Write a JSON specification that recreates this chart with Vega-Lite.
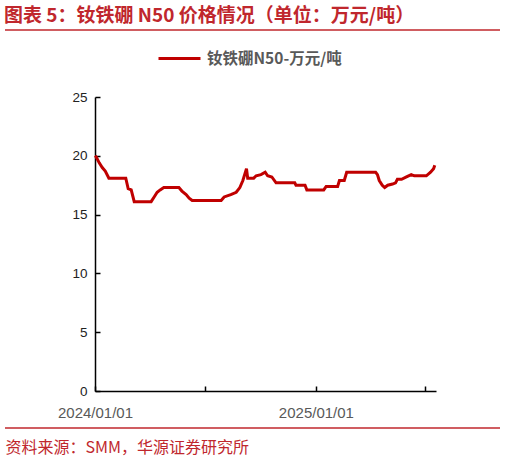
{
  "$schema": "https://vega.github.io/schema/vega-lite/v6.json",
  "description": "钕铁硼N50价格情况",
  "width": 341,
  "height": 294,
  "autosize": "none",
  "padding": {"left": 95, "top": 97, "right": 70, "bottom": 71},
  "title": {
    "text": "图表 5：钕铁硼 N50 价格情况（单位：万元/吨）",
    "anchor": "start",
    "frame": "group",
    "dx": -91,
    "offset": 3,
    "font": "Noto Sans CJK SC",
    "fontSize": 19,
    "fontWeight": "bold",
    "color": "#c0272d"
  },
  "layer": [
    {
      "data": {
        "values": [
          {"date": "2024-01-01", "price": 20.0},
          {"date": "2024-01-03", "price": 19.9},
          {"date": "2024-01-08", "price": 19.4},
          {"date": "2024-01-13", "price": 19.0},
          {"date": "2024-01-18", "price": 18.7},
          {"date": "2024-01-24", "price": 18.1},
          {"date": "2024-02-21", "price": 18.1},
          {"date": "2024-02-25", "price": 17.2},
          {"date": "2024-03-01", "price": 17.1},
          {"date": "2024-03-06", "price": 16.1},
          {"date": "2024-04-03", "price": 16.1},
          {"date": "2024-04-08", "price": 16.5},
          {"date": "2024-04-13", "price": 16.9},
          {"date": "2024-04-18", "price": 17.1},
          {"date": "2024-04-24", "price": 17.3},
          {"date": "2024-05-19", "price": 17.3},
          {"date": "2024-05-24", "price": 17.0},
          {"date": "2024-05-31", "price": 16.7},
          {"date": "2024-06-05", "price": 16.4},
          {"date": "2024-06-10", "price": 16.2},
          {"date": "2024-07-28", "price": 16.2},
          {"date": "2024-08-02", "price": 16.5},
          {"date": "2024-08-13", "price": 16.7},
          {"date": "2024-08-22", "price": 16.9},
          {"date": "2024-08-28", "price": 17.3},
          {"date": "2024-09-02", "price": 17.9},
          {"date": "2024-09-08", "price": 18.9},
          {"date": "2024-09-10", "price": 18.1},
          {"date": "2024-09-20", "price": 18.1},
          {"date": "2024-09-24", "price": 18.3},
          {"date": "2024-10-02", "price": 18.4},
          {"date": "2024-10-09", "price": 18.6},
          {"date": "2024-10-13", "price": 18.3},
          {"date": "2024-10-20", "price": 18.2},
          {"date": "2024-10-27", "price": 17.7},
          {"date": "2024-11-27", "price": 17.7},
          {"date": "2024-11-29", "price": 17.5},
          {"date": "2024-12-14", "price": 17.5},
          {"date": "2024-12-17", "price": 17.1},
          {"date": "2025-01-14", "price": 17.1},
          {"date": "2025-01-18", "price": 17.4},
          {"date": "2025-02-06", "price": 17.4},
          {"date": "2025-02-09", "price": 17.9},
          {"date": "2025-02-17", "price": 17.9},
          {"date": "2025-02-21", "price": 18.6},
          {"date": "2025-04-10", "price": 18.6},
          {"date": "2025-04-13", "price": 18.4},
          {"date": "2025-04-16", "price": 17.9},
          {"date": "2025-04-21", "price": 17.5},
          {"date": "2025-04-25", "price": 17.3},
          {"date": "2025-04-30", "price": 17.5},
          {"date": "2025-05-08", "price": 17.6},
          {"date": "2025-05-13", "price": 17.7},
          {"date": "2025-05-16", "price": 18.0},
          {"date": "2025-05-23", "price": 18.0},
          {"date": "2025-05-31", "price": 18.2},
          {"date": "2025-06-08", "price": 18.4},
          {"date": "2025-06-13", "price": 18.3},
          {"date": "2025-07-03", "price": 18.3},
          {"date": "2025-07-10", "price": 18.6},
          {"date": "2025-07-15", "price": 18.9},
          {"date": "2025-07-17", "price": 19.2}
        ]
      },
      "mark": {"type": "line", "strokeWidth": 3, "strokeJoin": "miter"},
      "encoding": {
        "x": {
          "field": "date",
          "type": "temporal",
          "scale": {"type": "utc", "domain": ["2024-01-01", "2025-07-19"]},
          "axis": {
            "values": [
              {"year": 2024, "month": 1, "date": 1, "utc": true},
              {"year": 2024, "month": 7, "date": 1, "utc": true},
              {"year": 2025, "month": 1, "date": 1, "utc": true},
              {"year": 2025, "month": 7, "date": 1, "utc": true}
            ],
            "labelExpr": "utcmonth(datum.value) == 0 ? utcFormat(datum.value, '%Y/%m/%d') : ''",
            "grid": false,
            "domainColor": "#000000",
            "domainWidth": 1.5,
            "tickColor": "#000000",
            "tickSize": -5,
            "tickWidth": 1.5,
            "labelFont": "Liberation Sans",
            "labelFontSize": 15,
            "labelColor": "#595959",
            "labelPadding": 26,
            "labelBaseline": "middle",
            "labelFlush": false,
            "labelOverlap": false,
            "title": "资料来源：SMM，华源证券研究所",
            "titleFont": "Noto Sans CJK SC",
            "titleFontSize": 16,
            "titleFontWeight": "normal",
            "titleColor": "#c0272d",
            "titleAnchor": "start",
            "titleAlign": "left",
            "titleBaseline": "middle",
            "titleX": -90,
            "titleY": 56
          }
        },
        "y": {
          "field": "price",
          "type": "quantitative",
          "scale": {"domain": [0, 25]},
          "axis": {
            "values": [0, 5, 10, 15, 20, 25],
            "grid": false,
            "domainColor": "#000000",
            "domainWidth": 1.5,
            "tickColor": "#000000",
            "tickSize": -5,
            "tickWidth": 1.5,
            "labelFont": "Liberation Sans",
            "labelFontSize": 13.5,
            "labelColor": "#222222",
            "labelPadding": 13,
            "title": null
          }
        },
        "color": {
          "datum": "钕铁硼N50-万元/吨",
          "type": "nominal",
          "scale": {"range": ["#c00000"]},
          "legend": {
            "title": null,
            "orient": "none",
            "legendX": 62,
            "legendY": -61,
            "symbolType": "stroke",
            "symbolSize": 1764,
            "symbolStrokeWidth": 3,
            "labelFont": "Noto Sans CJK SC",
            "labelFontSize": 15.5,
            "labelFontWeight": "bold",
            "labelColor": "#595959",
            "labelOffset": 5
          }
        }
      }
    },
    {
      "data": {"values": [{}]},
      "mark": {"type": "rule", "color": "#c0272d", "strokeWidth": 1.4},
      "encoding": {"x": {"value": -90}, "x2": {"value": 405}, "y": {"value": -67}}
    },
    {
      "data": {"values": [{}]},
      "mark": {"type": "rule", "color": "#c0272d", "strokeWidth": 1.4},
      "encoding": {"x": {"value": -90}, "x2": {"value": 405}, "y": {"value": 331}}
    }
  ],
  "config": {
    "view": {"stroke": null}
  }
}
